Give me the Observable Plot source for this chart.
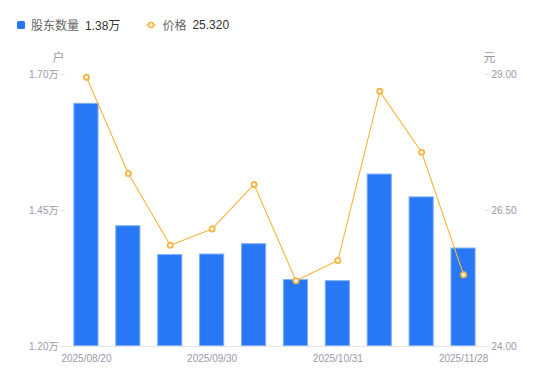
<!DOCTYPE html>
<html>
<head>
<meta charset="utf-8">
<script src="https://cdn.jsdelivr.net/npm/d3@7"></script>
<script src="https://cdn.jsdelivr.net/npm/@observablehq/plot@0.6"></script>
<style>
  html, body { margin: 0; padding: 0; background: #fff; }
  #wrap { position: relative; width: 550px; height: 381px; font-family: "Liberation Sans", "Noto Sans CJK SC", sans-serif; }
  #legend { position: absolute; left: 17px; top: 16px; font-size: 12px; display: flex; align-items: center; white-space: nowrap; }
  #legend .sw { display: inline-block; width: 8px; height: 8px; background: #2878f5; border-radius: 1.5px; margin-right: 6px; }
  #legend .lab { color: #666; font-family: "Noto Sans CJK SC", sans-serif; }
  #legend .val { color: #333; margin-left: 6px; }
  #legend svg { margin-right: 6px; }
</style>
</head>
<body>
<div id="wrap">
  <div id="legend"></div>
</div>
<script>
const dates = ["2025/08/20","2025/08/31","2025/09/19","2025/09/30","2025/10/10","2025/10/20","2025/10/31","2025/11/10","2025/11/20","2025/11/28"];
const holders = [1.647, 1.422, 1.369, 1.370, 1.389, 1.323, 1.321, 1.517, 1.475, 1.381]; // 万户
const prices = [28.95, 27.18, 25.86, 26.16, 26.98, 25.21, 25.58, 28.69, 27.57, 25.32]; // 元
const xTicks = ["2025/08/20","2025/09/30","2025/10/31","2025/11/28"];
const leftTicks = [1.20, 1.45, 1.70];
const rightTicks = [24.00, 26.50, 29.00];
const leftDomain = [1.20, 1.70];
const rightDomain = [24.00, 29.00];
const legendNames = ["股东数量", "价格"];
const legendValues = ["1.38万", "25.320"];
const units = ["户", "元"];

const toLeft = p => leftDomain[0] + (p - rightDomain[0]) / (rightDomain[1] - rightDomain[0]) * (leftDomain[1] - leftDomain[0]);
const toRight = v => rightDomain[0] + (v - leftDomain[0]) / (leftDomain[1] - leftDomain[0]) * (rightDomain[1] - rightDomain[0]);

const data = dates.map((d, i) => ({date: d, holders: holders[i], price: prices[i], py: toLeft(prices[i])}));

const blue = "#2878f5";
const orange = "#f8b440";
const grey = "#9a9aaa";
const axisGrey = "#e3e3e8";

const chart = Plot.plot({
  width: 550,
  height: 381,
  marginTop: 74,
  marginBottom: 35,
  marginLeft: 65,
  marginRight: 66,
  style: {fontFamily: "Liberation Sans, Noto Sans CJK SC, sans-serif", fontSize: "10px", background: "#fff"},
  x: {type: "band", domain: dates, paddingInner: 0.4, paddingOuter: 0.2, round: false},
  y: {domain: leftDomain},
  marks: [
    Plot.barY(data, {x: "date", y1: leftDomain[0], y2: "holders", fill: blue, stroke: "#7eaef8", strokeWidth: 1, inset: 0.5}),
    Plot.ruleY([leftDomain[0]], {stroke: axisGrey, strokeWidth: 1}),
    Plot.axisY({anchor: "left", ticks: leftTicks, tickFormat: d => d.toFixed(2) + "万", tickSize: 5, stroke: axisGrey, fill: grey, label: null, tickPadding: 2, line: true}),
    Plot.axisY({anchor: "right", ticks: leftTicks, tickFormat: d => toRight(d).toFixed(2), tickSize: 5, stroke: axisGrey, fill: grey, label: null, tickPadding: 2, line: true}),
    Plot.axisX({ticks: xTicks, tickSize: 0, fill: grey, label: null, tickPadding: 8}),
    Plot.line(data, {x: "date", y: "py", stroke: orange, strokeWidth: 1.1}),
    Plot.dot(data, {x: "date", y: "py", r: 2.6, stroke: orange, strokeWidth: 1.8, fill: "#fff"}),
    Plot.text([units[0]], {text: d => d, frameAnchor: "top-left", dx: -7, dy: -21, fill: grey, fontSize: 12, fontFamily: "Noto Sans CJK SC", textAnchor: "middle"}),
    Plot.text([units[1]], {text: d => d, frameAnchor: "top-right", dx: 5, dy: -21, fill: grey, fontSize: 12, fontFamily: "Noto Sans CJK SC", textAnchor: "middle"})
  ]
});
document.getElementById("wrap").appendChild(chart);

const lg = document.getElementById("legend");
lg.innerHTML =
  `<span class="sw"></span><span class="lab">${legendNames[0]}</span><span class="val">${legendValues[0]}</span>` +
  `<span style="display:inline-block;width:26px"></span>` +
  `<svg width="10" height="8"><line x1="0" y1="4" x2="10" y2="4" stroke="${orange}" stroke-width="1"/><circle cx="5" cy="4" r="2.5" fill="#fff" stroke="${orange}" stroke-width="1.6"/></svg>` +
  `<span class="lab">${legendNames[1]}</span><span class="val">${legendValues[1]}</span>`;
</script>
</body>
</html>
